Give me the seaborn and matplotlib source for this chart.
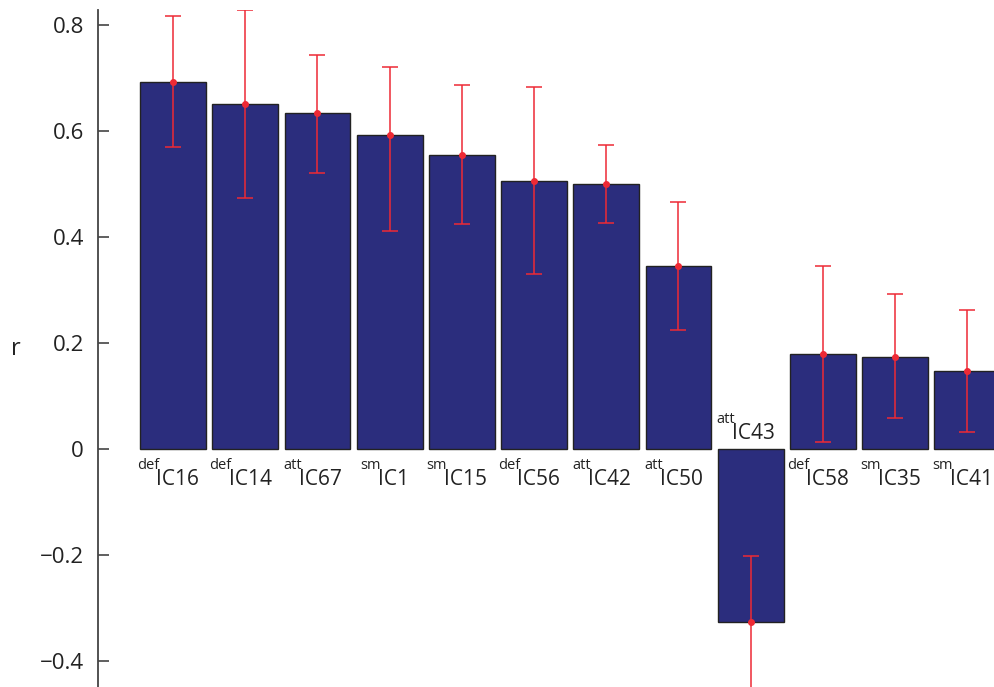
import matplotlib
matplotlib.use("Agg")
import matplotlib.pyplot as plt
import pandas as pd
import seaborn as sns

# Data
components = ["IC16", "IC14", "IC67", "IC1", "IC15", "IC56",
              "IC42", "IC50", "IC43", "IC58", "IC35", "IC41"]
prefixes = ["def", "def", "att", "sm", "sm", "def",
            "att", "att", "att", "def", "sm", "sm"]
r_values = [0.693, 0.650, 0.633, 0.593, 0.555, 0.506,
            0.500, 0.345, -0.326, 0.179, 0.174, 0.148]
ci_upper = [0.817, 0.828, 0.744, 0.721, 0.687, 0.682,
            0.574, 0.465, -0.201, 0.345, 0.292, 0.263]
ci_lower = [0.570, 0.473, 0.521, 0.411, 0.424, 0.331,
            0.426, 0.225, -0.455, 0.014, 0.058, 0.032]
y_ticks = [-0.4, -0.2, 0, 0.2, 0.4, 0.6, 0.8]
y_ticklabels = ["\u22120.4", "\u22120.2", "0", "0.2", "0.4", "0.6", "0.8"]

df = pd.DataFrame({"component": components, "prefix": prefixes, "r": r_values,
                   "upper": ci_upper, "lower": ci_lower})

sns.set_style("white")
plt.rcParams["font.family"] = ["Open Sans", "DejaVu Sans"]

bar_color = "#2b2d7d"
err_color = "#ee2a35"
axis_color = "#444444"
text_color = "#222222"

fig = plt.figure(figsize=(9.94, 6.87), dpi=100)
ax = fig.add_axes([0.0986, 0.0, 0.9014, 0.9854])

sns.barplot(data=df, x="component", y="r", color=bar_color, saturation=1,
            width=0.91, edgecolor="#222222", linewidth=1.0, errorbar=None, ax=ax)

ax.errorbar(range(len(df)), df["r"],
            yerr=[df["r"] - df["lower"], df["upper"] - df["r"]],
            fmt="o", color=err_color, ecolor=err_color, markersize=4,
            elinewidth=1.1, capsize=6, capthick=1.1, zorder=5)

ax.set_xlim(-1.04, 11.37)
ax.set_ylim(-0.449, 0.828)

# Labels next to the zero line: small prefix raised before the component name
renderer = fig.canvas.get_renderer()
px_to_pt = 72 / fig.dpi
for i, row in df.iterrows():
    base_y = -0.068 if row["r"] >= 0 else 0.019
    sup = ax.annotate(row["prefix"], xy=(i, base_y), xytext=(0, 11.5),
                      textcoords="offset points", ha="right", va="baseline",
                      fontsize=10.5, color=text_color, annotation_clip=False)
    main = ax.annotate(row["component"], xy=(i, base_y), xytext=(0, 0),
                       textcoords="offset points", ha="left", va="baseline",
                       fontsize=15, color=text_color, annotation_clip=False)
    w_sup = sup.get_window_extent(renderer).width
    w_main = main.get_window_extent(renderer).width
    shift = ((w_sup - w_main) / 2 - 5) * px_to_pt
    sup.set_position((shift + 1, 11.5))
    main.set_position((shift - 1, 0))

ax.set_xticks([])
ax.set_xlabel("")
ax.set_yticks(y_ticks)
ax.set_yticklabels(y_ticklabels, fontsize=16, color=text_color)
ax.tick_params(axis="y", direction="in", length=8, width=1.2, color=axis_color,
               left=True, pad=10)
ax.set_ylabel("r", rotation=0, fontsize=17, color=text_color,
              ha="center", va="center")
ax.yaxis.set_label_coords(-0.092, 0.5)

sns.despine(ax=ax, top=True, right=True, bottom=True)
ax.spines["left"].set_color(axis_color)
ax.spines["left"].set_linewidth(1.3)

fig.savefig("out.png", dpi=100)
